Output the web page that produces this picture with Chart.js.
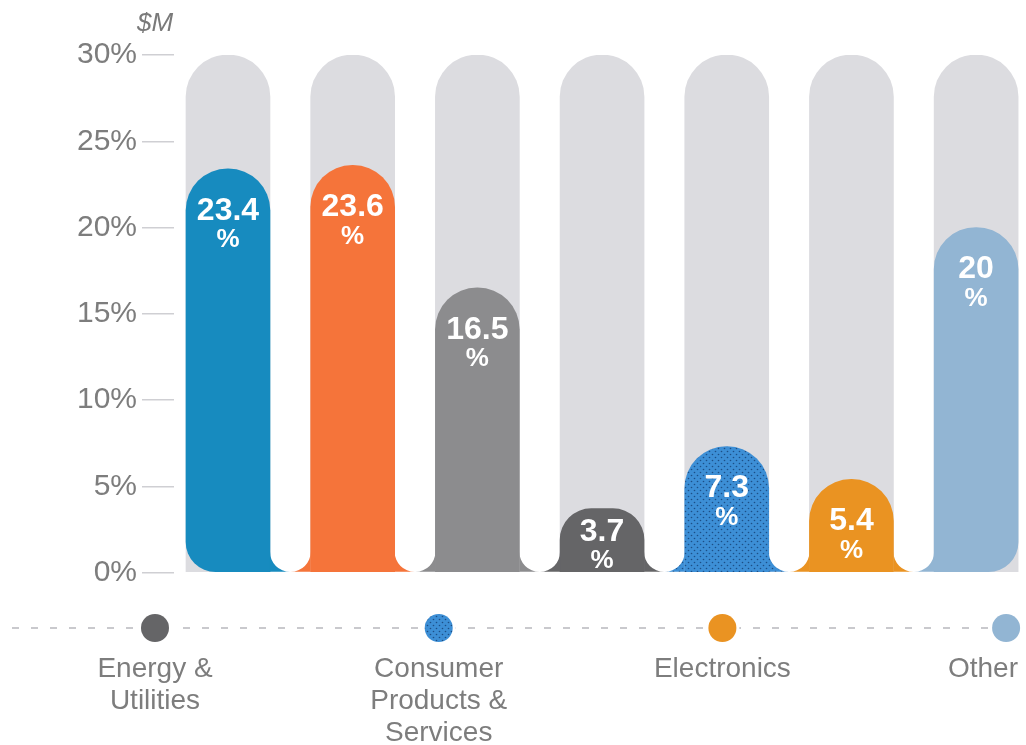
<!DOCTYPE html>
<html><head><meta charset="utf-8">
<script src="https://cdn.jsdelivr.net/npm/chart.js@4"></script>
<style>html,body{margin:0;padding:0;background:#fff;overflow:hidden}#wrap{width:1026px;height:745px;position:relative}</style>
</head><body><div id="wrap"><canvas id="c"></canvas></div>
<script>
// ---- data ----
const categories = ['Segment 1','Segment 2','Segment 3','Segment 4','Segment 5','Segment 6','Segment 7'];
const shareValues = [23.4, 23.6, 16.5, 3.7, 7.3, 5.4, 20];
const shareLabels = ['23.4', '23.6', '16.5', '3.7', '7.3', '5.4', '20'];
const fullValues = [30, 30, 30, 30, 30, 30, 30];
const yTickValues = [0, 5, 10, 15, 20, 25, 30];
const axisUnit = '$M';
const legendLabels = [['Energy &', 'Utilities'], ['Consumer', 'Products &', 'Services'], ['Electronics'], ['Other']];

// ---- styles ----
const FONT = '"Liberation Sans", Arial, Helvetica, sans-serif';
const canvas = document.getElementById('c');
const mainCtx = canvas.getContext('2d');
function dotPattern(bg, dot) {
  const c = document.createElement('canvas'); c.width = 6; c.height = 6;
  const x = c.getContext('2d');
  x.fillStyle = bg; x.fillRect(0, 0, 6, 6);
  x.fillStyle = dot;
  x.beginPath(); x.arc(1.5, 1.5, 0.8, 0, Math.PI * 2); x.fill();
  x.beginPath(); x.arc(4.5, 4.5, 0.8, 0, Math.PI * 2); x.fill();
  return mainCtx.createPattern(c, 'repeat');
}
const consumerFill = dotPattern('#3d8fd6', '#1d4f86');
const barColors = ['#178bbf', '#f5743a', '#8c8c8e', '#656567', consumerFill, '#ea9322', '#92b5d3'];
const legendColors = ['#656567', consumerFill, '#ea9322', '#92b5d3'];

const n = shareValues.length;

const decor = {
  id: 'decor',
  afterDatasetsDraw(chart) {
    const ctx = chart.ctx;
    const meta = chart.getDatasetMeta(1);
    const r = 20;
    meta.data.forEach((el, i) => {
      const p = el.getProps(['x', 'y', 'base', 'width'], true);
      const left = p.x - p.width / 2, right = p.x + p.width / 2, base = p.base;
      ctx.save();
      ctx.fillStyle = barColors[i];
      if (i > 0) {
        ctx.beginPath();
        ctx.moveTo(left, base - r);
        ctx.lineTo(left, base);
        ctx.lineTo(left - r, base);
        ctx.arc(left - r, base - r, r, Math.PI / 2, 0, true);
        ctx.closePath(); ctx.fill();
      }
      if (i < n - 1) {
        ctx.beginPath();
        ctx.moveTo(right, base - r);
        ctx.arc(right + r, base - r, r, Math.PI, Math.PI / 2, true);
        ctx.lineTo(right, base);
        ctx.closePath(); ctx.fill();
      }
      const ny = Math.min(p.y + 42, base - 40);
      ctx.fillStyle = '#ffffff';
      ctx.textAlign = 'center';
      ctx.textBaseline = 'middle';
      ctx.font = 'bold 32px ' + FONT;
      ctx.fillText(shareLabels[i], p.x, ny);
      ctx.font = 'bold 26px ' + FONT;
      ctx.fillText('%', p.x, ny + 29);
      ctx.restore();
    });
  },
  afterDraw(chart) {
    const ctx = chart.ctx;
    ctx.save();
    // unit label
    ctx.fillStyle = '#7a7a7a';
    ctx.font = 'italic 26px ' + FONT;
    ctx.textAlign = 'center';
    ctx.textBaseline = 'middle';
    ctx.fillText(axisUnit, 155, 24);
    // dashed legend line
    const ly = 628;
    ctx.strokeStyle = '#c9c9cd';
    ctx.lineWidth = 2;
    ctx.setLineDash([7, 12]);
    ctx.beginPath(); ctx.moveTo(12, ly); ctx.lineTo(1022, ly); ctx.stroke();
    ctx.setLineDash([]);
    legendLabels.forEach((lines, i) => {
      const dx = 155 + i * 283.7;
      ctx.fillStyle = '#ffffff';
      ctx.beginPath(); ctx.arc(dx, ly, 17, 0, Math.PI * 2); ctx.fill();
      ctx.fillStyle = legendColors[i];
      ctx.beginPath(); ctx.arc(dx, ly, 14, 0, Math.PI * 2); ctx.fill();
      ctx.fillStyle = '#7d7d7d';
      ctx.font = '28px ' + FONT;
      lines.forEach((t, j) => {
        const w = ctx.measureText(t).width;
        const cx = Math.min(dx, 1018 - w / 2);
        ctx.fillText(t, cx, 669 + j * 32);
      });
    });
    ctx.restore();
  }
};

new Chart(canvas, {
  type: 'bar',
  data: {
    labels: categories,
    datasets: [
      {
        label: 'Scale',
        data: fullValues.map((v, i) => ({ x: i, y: v })),
        backgroundColor: '#dcdce0',
        barThickness: 84,
        borderSkipped: false,
        borderRadius: { topLeft: 42, topRight: 42, bottomLeft: 0, bottomRight: 0 },
        order: 2
      },
      {
        label: 'Share',
        data: shareValues.map((v, i) => ({ x: i, y: v })),
        backgroundColor: barColors,
        barThickness: 84,
        borderSkipped: false,
        borderRadius: (ctx) => ({
          topLeft: 42, topRight: 42,
          bottomLeft: ctx.dataIndex === 0 ? 30 : 0,
          bottomRight: ctx.dataIndex === n - 1 ? 30 : 0
        }),
        order: 1
      }
    ]
  },
  options: {
    responsive: true,
    maintainAspectRatio: false,
    animation: false,
    grouped: false,
    layout: { padding: { top: 55, bottom: 745 - 572.5, left: 0, right: 0 } },
    plugins: { legend: { display: false }, tooltip: { enabled: false } },
    scales: {
      x: { type: 'linear', min: -0.433, max: 6.4, offset: false, display: false },
      y: {
        min: 0, max: 30,
        afterBuildTicks: (s) => { s.ticks = yTickValues.map(v => ({ value: v })); },
        afterFit: (s) => { s.width = 174; },
        border: { display: false },
        grid: { drawOnChartArea: false, drawTicks: true, tickLength: 32, color: '#cfcfd3', lineWidth: 1.5 },
        ticks: {
          padding: 5,
          color: '#7d7d7d',
          font: { family: FONT, size: 30 },
          callback: (v) => v + '%'
        }
      }
    }
  },
  plugins: [decor]
});
</script></body></html>
